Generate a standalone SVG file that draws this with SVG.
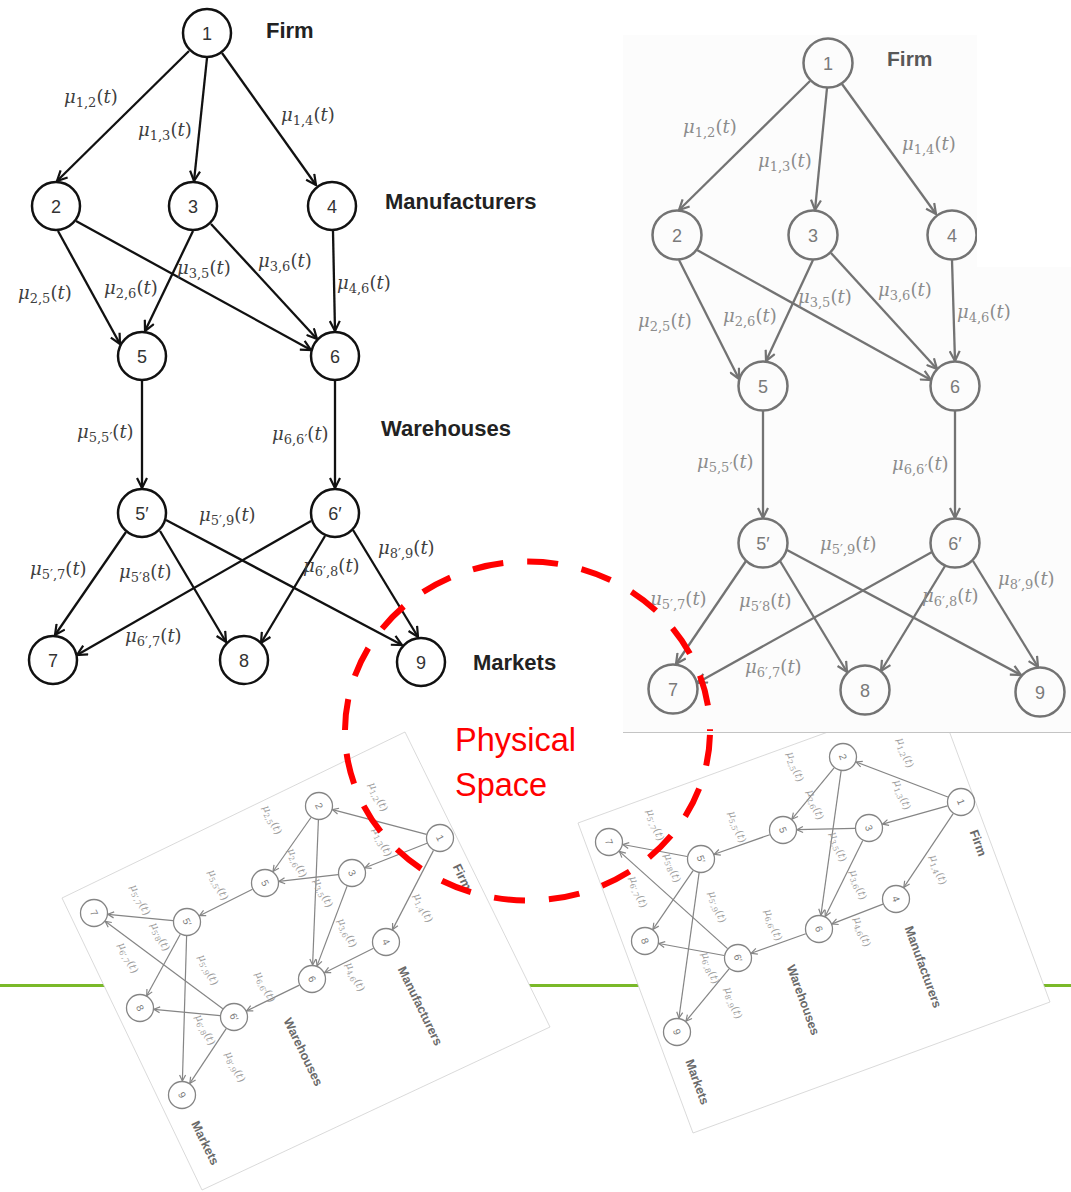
<svg xmlns="http://www.w3.org/2000/svg" width="1071" height="1192" viewBox="0 0 1071 1192">
<style>
.mu{font-family:"DejaVu Serif","Liberation Serif",serif}
.tlL{font-size:18px;fill:#404040}
.trL{font-size:18px;fill:#8c8c8c}
.smL{font-size:10.5px;fill:#9c9c9c;text-anchor:middle}
.i{font-style:italic}
.s{font-size:13px}
.ss{font-size:7.5px}
.cat{font-family:"Liberation Sans",Arial,sans-serif;font-weight:bold}
.tlc{font-size:22px;fill:#222}
.trc{font-size:21px;fill:#585858}
.smc{font-size:12.5px;fill:#6a6a6a;text-anchor:middle}
.num{font-family:"Liberation Sans",Arial,sans-serif;text-anchor:middle}
.tl circle{fill:none;stroke:#111;stroke-width:2.5}
.tl text{font-size:18px;fill:#333}
.tr circle{fill:none;stroke:#737373;stroke-width:2.5}
.tr text{font-size:18px;fill:#7a7a7a}
.sm circle{fill:none;stroke:#858585;stroke-width:1.3}
.sm text{font-size:10px;fill:#7a7a7a}
.eK line{stroke:#111;stroke-width:2.3;marker-end:url(#ak)}
.eG line{stroke:#737373;stroke-width:2.3;marker-end:url(#ag)}
.eS line{stroke:#858585;stroke-width:1.2;marker-end:url(#as)}
</style>
<defs>
<marker id="ak" viewBox="0 0 12 12" refX="11" refY="6" markerWidth="12" markerHeight="12" markerUnits="userSpaceOnUse" orient="auto"><path d="M1,1 L11,6 L1,11" fill="none" stroke="#111" stroke-width="2.2"/></marker>
<marker id="ag" viewBox="0 0 12 12" refX="11" refY="6" markerWidth="12" markerHeight="12" markerUnits="userSpaceOnUse" orient="auto"><path d="M1,1 L11,6 L1,11" fill="none" stroke="#737373" stroke-width="2.2"/></marker>
<marker id="as" viewBox="0 0 8 8" refX="7" refY="4" markerWidth="8" markerHeight="8" markerUnits="userSpaceOnUse" orient="auto"><path d="M1,1 L7,4 L1,7" fill="none" stroke="#858585" stroke-width="1.2"/></marker>
</defs>
<rect width="1071" height="1192" fill="#fff"/>
<line x1="0" y1="985.5" x2="1071" y2="985.5" stroke="#7ab929" stroke-width="3"/>

<!-- bottom-left rotated copy -->
<g id="bl">
<polygon points="62,898 405,732 550,1027 202,1190" fill="#fff" stroke="#d0d0d0" stroke-width="0.8"/>
<g id="bl-edges" class="eS">
<line x1="426.5" y1="834.4" x2="332.5" y2="809.6"/>
<line x1="427" y1="843.2" x2="365" y2="867.8"/>
<line x1="433.5" y1="850.4" x2="392.5" y2="929.6"/>
<line x1="311" y1="817.5" x2="273" y2="871.5"/>
<line x1="318.4" y1="820" x2="312.6" y2="965"/>
<line x1="338.1" y1="874.6" x2="278.9" y2="881.4"/>
<line x1="347.1" y1="886.1" x2="317" y2="965.9"/>
<line x1="373.5" y1="948.3" x2="324.5" y2="972.7"/>
<line x1="252.5" y1="889.3" x2="199.5" y2="915.7"/>
<line x1="299.4" y1="985.1" x2="246.6" y2="1010.9"/>
<line x1="173.1" y1="920.7" x2="107.9" y2="914.3"/>
<line x1="180.3" y1="934.3" x2="146.7" y2="995.7"/>
<line x1="186.6" y1="936" x2="182.4" y2="1081"/>
<line x1="222.8" y1="1008.7" x2="105.2" y2="921.3"/>
<line x1="220.1" y1="1015.7" x2="153.9" y2="1009.3"/>
<line x1="226.2" y1="1028.6" x2="189.8" y2="1083.4"/>
</g>
<g id="bl-n1" class="sm"><circle cx="440" cy="838" r="13.5"/><text class="num" transform="translate(440,838) rotate(64)" y="3.5">1</text></g>
<g id="bl-n2" class="sm"><circle cx="319" cy="806" r="13.5"/><text class="num" transform="translate(319,806) rotate(64)" y="3.5">2</text></g>
<g id="bl-n3" class="sm"><circle cx="352" cy="873" r="13.5"/><text class="num" transform="translate(352,873) rotate(64)" y="3.5">3</text></g>
<g id="bl-n4" class="sm"><circle cx="386" cy="942" r="13.5"/><text class="num" transform="translate(386,942) rotate(64)" y="3.5">4</text></g>
<g id="bl-n5" class="sm"><circle cx="265" cy="883" r="13.5"/><text class="num" transform="translate(265,883) rotate(64)" y="3.5">5</text></g>
<g id="bl-n6" class="sm"><circle cx="312" cy="979" r="13.5"/><text class="num" transform="translate(312,979) rotate(64)" y="3.5">6</text></g>
<g id="bl-n5p" class="sm"><circle cx="187" cy="922" r="13.5"/><text class="num" transform="translate(187,922) rotate(64)" y="3.5">5′</text></g>
<g id="bl-n6p" class="sm"><circle cx="234" cy="1017" r="13.5"/><text class="num" transform="translate(234,1017) rotate(64)" y="3.5">6′</text></g>
<g id="bl-n7" class="sm"><circle cx="94" cy="913" r="13.5"/><text class="num" transform="translate(94,913) rotate(64)" y="3.5">7</text></g>
<g id="bl-n8" class="sm"><circle cx="140" cy="1008" r="13.5"/><text class="num" transform="translate(140,1008) rotate(64)" y="3.5">8</text></g>
<g id="bl-n9" class="sm"><circle cx="182" cy="1095" r="13.5"/><text class="num" transform="translate(182,1095) rotate(64)" y="3.5">9</text></g>
<g id="bl-labels">
<text class="mu smL" transform="translate(378,797) rotate(64)" y="3"><tspan class="i">μ</tspan><tspan class="ss" dy="2.5">1,2</tspan><tspan dy="-2.5">(</tspan><tspan class="i">t</tspan>)</text>
<text class="mu smL" transform="translate(382,842) rotate(64)" y="3"><tspan class="i">μ</tspan><tspan class="ss" dy="2.5">1,3</tspan><tspan dy="-2.5">(</tspan><tspan class="i">t</tspan>)</text>
<text class="mu smL" transform="translate(423,908) rotate(64)" y="3"><tspan class="i">μ</tspan><tspan class="ss" dy="2.5">1,4</tspan><tspan dy="-2.5">(</tspan><tspan class="i">t</tspan>)</text>
<text class="mu smL" transform="translate(272,820) rotate(64)" y="3"><tspan class="i">μ</tspan><tspan class="ss" dy="2.5">2,5</tspan><tspan dy="-2.5">(</tspan><tspan class="i">t</tspan>)</text>
<text class="mu smL" transform="translate(297,863) rotate(64)" y="3"><tspan class="i">μ</tspan><tspan class="ss" dy="2.5">2,6</tspan><tspan dy="-2.5">(</tspan><tspan class="i">t</tspan>)</text>
<text class="mu smL" transform="translate(323,893) rotate(64)" y="3"><tspan class="i">μ</tspan><tspan class="ss" dy="2.5">3,5</tspan><tspan dy="-2.5">(</tspan><tspan class="i">t</tspan>)</text>
<text class="mu smL" transform="translate(347,933) rotate(64)" y="3"><tspan class="i">μ</tspan><tspan class="ss" dy="2.5">3,6</tspan><tspan dy="-2.5">(</tspan><tspan class="i">t</tspan>)</text>
<text class="mu smL" transform="translate(355,977) rotate(64)" y="3"><tspan class="i">μ</tspan><tspan class="ss" dy="2.5">4,6</tspan><tspan dy="-2.5">(</tspan><tspan class="i">t</tspan>)</text>
<text class="mu smL" transform="translate(218,885) rotate(64)" y="3"><tspan class="i">μ</tspan><tspan class="ss" dy="2.5">5,5′</tspan><tspan dy="-2.5">(</tspan><tspan class="i">t</tspan>)</text>
<text class="mu smL" transform="translate(265,987) rotate(64)" y="3"><tspan class="i">μ</tspan><tspan class="ss" dy="2.5">6,6′</tspan><tspan dy="-2.5">(</tspan><tspan class="i">t</tspan>)</text>
<text class="mu smL" transform="translate(140,900) rotate(64)" y="3"><tspan class="i">μ</tspan><tspan class="ss" dy="2.5">5′,7</tspan><tspan dy="-2.5">(</tspan><tspan class="i">t</tspan>)</text>
<text class="mu smL" transform="translate(160,937) rotate(64)" y="3"><tspan class="i">μ</tspan><tspan class="ss" dy="2.5">5′8</tspan><tspan dy="-2.5">(</tspan><tspan class="i">t</tspan>)</text>
<text class="mu smL" transform="translate(128,958) rotate(64)" y="3"><tspan class="i">μ</tspan><tspan class="ss" dy="2.5">6′,7</tspan><tspan dy="-2.5">(</tspan><tspan class="i">t</tspan>)</text>
<text class="mu smL" transform="translate(208,970) rotate(64)" y="3"><tspan class="i">μ</tspan><tspan class="ss" dy="2.5">5′,9</tspan><tspan dy="-2.5">(</tspan><tspan class="i">t</tspan>)</text>
<text class="mu smL" transform="translate(205,1030) rotate(64)" y="3"><tspan class="i">μ</tspan><tspan class="ss" dy="2.5">6′,8</tspan><tspan dy="-2.5">(</tspan><tspan class="i">t</tspan>)</text>
<text class="mu smL" transform="translate(235,1067) rotate(64)" y="3"><tspan class="i">μ</tspan><tspan class="ss" dy="2.5">8′,9</tspan><tspan dy="-2.5">(</tspan><tspan class="i">t</tspan>)</text>
<text class="cat smc" transform="translate(462,877) rotate(64)" y="4">Firm</text>
<text class="cat smc" transform="translate(420,1006) rotate(64)" y="4">Manufacturers</text>
<text class="cat smc" transform="translate(303,1052) rotate(64)" y="4">Warehouses</text>
<text class="cat smc" transform="translate(205,1143) rotate(64)" y="4">Markets</text>
</g>
</g>

<!-- bottom-right rotated copy -->
<g id="br">
<polygon points="578,823 935,693 1050,1002 693,1133" fill="#fff" stroke="#d0d0d0" stroke-width="0.8"/>
<g id="br-edges" class="eS">
<line x1="947.9" y1="797" x2="856.1" y2="762"/>
<line x1="947.5" y1="805.8" x2="882.5" y2="824.2"/>
<line x1="953.2" y1="813.6" x2="903.8" y2="887.4"/>
<line x1="834.1" y1="767.8" x2="791.9" y2="819.2"/>
<line x1="841.1" y1="770.9" x2="820.9" y2="915.1"/>
<line x1="855" y1="828.3" x2="797" y2="829.7"/>
<line x1="862.8" y1="840.5" x2="825.2" y2="916.5"/>
<line x1="883" y1="904.1" x2="832" y2="923.9"/>
<line x1="769.8" y1="834.7" x2="714.2" y2="854.3"/>
<line x1="805.8" y1="933.7" x2="751.2" y2="953.3"/>
<line x1="687.2" y1="856.5" x2="622.8" y2="844.5"/>
<line x1="693.1" y1="870.6" x2="652.9" y2="929.4"/>
<line x1="699.1" y1="872.9" x2="678.9" y2="1018.1"/>
<line x1="727.6" y1="948.6" x2="619.4" y2="851.4"/>
<line x1="724.2" y1="955.5" x2="658.8" y2="943.5"/>
<line x1="729.1" y1="968.8" x2="685.9" y2="1021.2"/>
</g>
<g id="br-n1" class="sm"><circle cx="961" cy="802" r="13.5"/><text class="num" transform="translate(961,802) rotate(70)" y="3.5">1</text></g>
<g id="br-n2" class="sm"><circle cx="843" cy="757" r="13.5"/><text class="num" transform="translate(843,757) rotate(70)" y="3.5">2</text></g>
<g id="br-n3" class="sm"><circle cx="869" cy="828" r="13.5"/><text class="num" transform="translate(869,828) rotate(70)" y="3.5">3</text></g>
<g id="br-n4" class="sm"><circle cx="896" cy="899" r="13.5"/><text class="num" transform="translate(896,899) rotate(70)" y="3.5">4</text></g>
<g id="br-n5" class="sm"><circle cx="783" cy="830" r="13.5"/><text class="num" transform="translate(783,830) rotate(70)" y="3.5">5</text></g>
<g id="br-n6" class="sm"><circle cx="819" cy="929" r="13.5"/><text class="num" transform="translate(819,929) rotate(70)" y="3.5">6</text></g>
<g id="br-n5p" class="sm"><circle cx="701" cy="859" r="13.5"/><text class="num" transform="translate(701,859) rotate(70)" y="3.5">5′</text></g>
<g id="br-n6p" class="sm"><circle cx="738" cy="958" r="13.5"/><text class="num" transform="translate(738,958) rotate(70)" y="3.5">6′</text></g>
<g id="br-n7" class="sm"><circle cx="609" cy="842" r="13.5"/><text class="num" transform="translate(609,842) rotate(70)" y="3.5">7</text></g>
<g id="br-n8" class="sm"><circle cx="645" cy="941" r="13.5"/><text class="num" transform="translate(645,941) rotate(70)" y="3.5">8</text></g>
<g id="br-n9" class="sm"><circle cx="677" cy="1032" r="13.5"/><text class="num" transform="translate(677,1032) rotate(70)" y="3.5">9</text></g>
<g id="br-labels">
<text class="mu smL" transform="translate(905,753) rotate(70)" y="3"><tspan class="i">μ</tspan><tspan class="ss" dy="2.5">1,2</tspan><tspan dy="-2.5">(</tspan><tspan class="i">t</tspan>)</text>
<text class="mu smL" transform="translate(902,795) rotate(70)" y="3"><tspan class="i">μ</tspan><tspan class="ss" dy="2.5">1,3</tspan><tspan dy="-2.5">(</tspan><tspan class="i">t</tspan>)</text>
<text class="mu smL" transform="translate(938,870) rotate(70)" y="3"><tspan class="i">μ</tspan><tspan class="ss" dy="2.5">1,4</tspan><tspan dy="-2.5">(</tspan><tspan class="i">t</tspan>)</text>
<text class="mu smL" transform="translate(795,767) rotate(70)" y="3"><tspan class="i">μ</tspan><tspan class="ss" dy="2.5">2,5</tspan><tspan dy="-2.5">(</tspan><tspan class="i">t</tspan>)</text>
<text class="mu smL" transform="translate(815,805) rotate(70)" y="3"><tspan class="i">μ</tspan><tspan class="ss" dy="2.5">2,6</tspan><tspan dy="-2.5">(</tspan><tspan class="i">t</tspan>)</text>
<text class="mu smL" transform="translate(838,847) rotate(70)" y="3"><tspan class="i">μ</tspan><tspan class="ss" dy="2.5">3,5</tspan><tspan dy="-2.5">(</tspan><tspan class="i">t</tspan>)</text>
<text class="mu smL" transform="translate(858,885) rotate(70)" y="3"><tspan class="i">μ</tspan><tspan class="ss" dy="2.5">3,6</tspan><tspan dy="-2.5">(</tspan><tspan class="i">t</tspan>)</text>
<text class="mu smL" transform="translate(862,932) rotate(70)" y="3"><tspan class="i">μ</tspan><tspan class="ss" dy="2.5">4,6</tspan><tspan dy="-2.5">(</tspan><tspan class="i">t</tspan>)</text>
<text class="mu smL" transform="translate(737,827) rotate(70)" y="3"><tspan class="i">μ</tspan><tspan class="ss" dy="2.5">5,5′</tspan><tspan dy="-2.5">(</tspan><tspan class="i">t</tspan>)</text>
<text class="mu smL" transform="translate(773,925) rotate(70)" y="3"><tspan class="i">μ</tspan><tspan class="ss" dy="2.5">6,6′</tspan><tspan dy="-2.5">(</tspan><tspan class="i">t</tspan>)</text>
<text class="mu smL" transform="translate(655,825) rotate(70)" y="3"><tspan class="i">μ</tspan><tspan class="ss" dy="2.5">5′,7</tspan><tspan dy="-2.5">(</tspan><tspan class="i">t</tspan>)</text>
<text class="mu smL" transform="translate(672,868) rotate(70)" y="3"><tspan class="i">μ</tspan><tspan class="ss" dy="2.5">5′8</tspan><tspan dy="-2.5">(</tspan><tspan class="i">t</tspan>)</text>
<text class="mu smL" transform="translate(638,892) rotate(70)" y="3"><tspan class="i">μ</tspan><tspan class="ss" dy="2.5">6′,7</tspan><tspan dy="-2.5">(</tspan><tspan class="i">t</tspan>)</text>
<text class="mu smL" transform="translate(717,907) rotate(70)" y="3"><tspan class="i">μ</tspan><tspan class="ss" dy="2.5">5′,9</tspan><tspan dy="-2.5">(</tspan><tspan class="i">t</tspan>)</text>
<text class="mu smL" transform="translate(710,968) rotate(70)" y="3"><tspan class="i">μ</tspan><tspan class="ss" dy="2.5">6′,8</tspan><tspan dy="-2.5">(</tspan><tspan class="i">t</tspan>)</text>
<text class="mu smL" transform="translate(733,1003) rotate(70)" y="3"><tspan class="i">μ</tspan><tspan class="ss" dy="2.5">8′,9</tspan><tspan dy="-2.5">(</tspan><tspan class="i">t</tspan>)</text>
<text class="cat smc" transform="translate(978,843) rotate(70)" y="4">Firm</text>
<text class="cat smc" transform="translate(923,967) rotate(70)" y="4">Manufacturers</text>
<text class="cat smc" transform="translate(803,1000) rotate(70)" y="4">Warehouses</text>
<text class="cat smc" transform="translate(697,1082) rotate(70)" y="4">Markets</text>
</g>
</g>

<!-- top-right gray copy -->
<g id="tr">
<rect x="623" y="35" width="448" height="697" fill="#fcfcfc"/>
<line x1="623" y1="732.5" x2="1071" y2="732.5" stroke="#c4c4c4" stroke-width="1.2"/>
<g id="tr-edges" class="eG">
<line x1="810" y1="81" x2="679" y2="210"/>
<line x1="827" y1="88" x2="815" y2="210"/>
<line x1="842" y1="84" x2="936" y2="214"/>
<line x1="679" y1="260" x2="739" y2="379"/>
<line x1="697" y1="250" x2="931" y2="380"/>
<line x1="813" y1="260" x2="766" y2="361"/>
<line x1="831" y1="253" x2="937" y2="369"/>
<line x1="952" y1="260" x2="955" y2="361"/>
<line x1="763" y1="411" x2="763" y2="518"/>
<line x1="955" y1="411" x2="955" y2="518"/>
<line x1="746" y1="561" x2="676" y2="664"/>
<line x1="780" y1="561" x2="847" y2="672"/>
<line x1="787" y1="550" x2="1021" y2="675"/>
<line x1="932" y1="552" x2="697" y2="683"/>
<line x1="945" y1="566" x2="881" y2="671"/>
<line x1="973" y1="561" x2="1038" y2="667"/>
</g>
<g id="tr-n1" class="tr"><circle cx="828" cy="63" r="24.5"/><text class="num" x="828" y="69.5">1</text></g>
<g id="tr-n2" class="tr"><circle cx="677" cy="235" r="24.5"/><text class="num" x="677" y="241.5">2</text></g>
<g id="tr-n3" class="tr"><circle cx="813" cy="235" r="24.5"/><text class="num" x="813" y="241.5">3</text></g>
<g id="tr-n4" class="tr"><circle cx="952" cy="235" r="24.5"/><text class="num" x="952" y="241.5">4</text></g>
<g id="tr-n5" class="tr"><circle cx="763" cy="386" r="24.5"/><text class="num" x="763" y="392.5">5</text></g>
<g id="tr-n6" class="tr"><circle cx="955" cy="386" r="24.5"/><text class="num" x="955" y="392.5">6</text></g>
<g id="tr-n5p" class="tr"><circle cx="763" cy="543" r="24.5"/><text class="num" x="763" y="549.5">5′</text></g>
<g id="tr-n6p" class="tr"><circle cx="955" cy="543" r="24.5"/><text class="num" x="955" y="549.5">6′</text></g>
<g id="tr-n7" class="tr"><circle cx="673" cy="689" r="24.5"/><text class="num" x="673" y="695.5">7</text></g>
<g id="tr-n8" class="tr"><circle cx="865" cy="690" r="24.5"/><text class="num" x="865" y="696.5">8</text></g>
<g id="tr-n9" class="tr"><circle cx="1040" cy="692" r="24.5"/><text class="num" x="1040" y="698.5">9</text></g>
<rect x="977" y="35" width="94" height="232" fill="#fff"/>
<g id="tr-labels">
<text class="mu trL" x="683" y="133"><tspan class="i">μ</tspan><tspan class="s" dy="4">1,2</tspan><tspan dy="-4">(</tspan><tspan class="i">t</tspan>)</text>
<text class="mu trL" x="758" y="167"><tspan class="i">μ</tspan><tspan class="s" dy="4">1,3</tspan><tspan dy="-4">(</tspan><tspan class="i">t</tspan>)</text>
<text class="mu trL" x="902" y="150"><tspan class="i">μ</tspan><tspan class="s" dy="4">1,4</tspan><tspan dy="-4">(</tspan><tspan class="i">t</tspan>)</text>
<text class="mu trL" x="638" y="327"><tspan class="i">μ</tspan><tspan class="s" dy="4">2,5</tspan><tspan dy="-4">(</tspan><tspan class="i">t</tspan>)</text>
<text class="mu trL" x="723" y="322"><tspan class="i">μ</tspan><tspan class="s" dy="4">2,6</tspan><tspan dy="-4">(</tspan><tspan class="i">t</tspan>)</text>
<text class="mu trL" x="798" y="303"><tspan class="i">μ</tspan><tspan class="s" dy="4">3,5</tspan><tspan dy="-4">(</tspan><tspan class="i">t</tspan>)</text>
<text class="mu trL" x="878" y="296"><tspan class="i">μ</tspan><tspan class="s" dy="4">3,6</tspan><tspan dy="-4">(</tspan><tspan class="i">t</tspan>)</text>
<text class="mu trL" x="957" y="318"><tspan class="i">μ</tspan><tspan class="s" dy="4">4,6</tspan><tspan dy="-4">(</tspan><tspan class="i">t</tspan>)</text>
<text class="mu trL" x="697" y="468"><tspan class="i">μ</tspan><tspan class="s" dy="4">5,5′</tspan><tspan dy="-4">(</tspan><tspan class="i">t</tspan>)</text>
<text class="mu trL" x="892" y="470"><tspan class="i">μ</tspan><tspan class="s" dy="4">6,6′</tspan><tspan dy="-4">(</tspan><tspan class="i">t</tspan>)</text>
<text class="mu trL" x="820" y="550"><tspan class="i">μ</tspan><tspan class="s" dy="4">5′,9</tspan><tspan dy="-4">(</tspan><tspan class="i">t</tspan>)</text>
<text class="mu trL" x="650" y="605"><tspan class="i">μ</tspan><tspan class="s" dy="4">5′,7</tspan><tspan dy="-4">(</tspan><tspan class="i">t</tspan>)</text>
<text class="mu trL" x="739" y="607"><tspan class="i">μ</tspan><tspan class="s" dy="4">5′8</tspan><tspan dy="-4">(</tspan><tspan class="i">t</tspan>)</text>
<text class="mu trL" x="922" y="602"><tspan class="i">μ</tspan><tspan class="s" dy="4">6′,8</tspan><tspan dy="-4">(</tspan><tspan class="i">t</tspan>)</text>
<text class="mu trL" x="998" y="585"><tspan class="i">μ</tspan><tspan class="s" dy="4">8′,9</tspan><tspan dy="-4">(</tspan><tspan class="i">t</tspan>)</text>
<text class="mu trL" x="745" y="673"><tspan class="i">μ</tspan><tspan class="s" dy="4">6′,7</tspan><tspan dy="-4">(</tspan><tspan class="i">t</tspan>)</text>
<text class="cat trc" x="887" y="66">Firm</text>
</g>
</g>

<!-- top-left black diagram -->
<g id="tl">
<g id="tl-edges" class="eK">
<line x1="189" y1="51" x2="57" y2="181"/>
<line x1="207" y1="58" x2="194" y2="181"/>
<line x1="222" y1="53" x2="316" y2="185"/>
<line x1="58" y1="231" x2="120" y2="344"/>
<line x1="76" y1="221" x2="311" y2="350"/>
<line x1="193" y1="231" x2="145" y2="331"/>
<line x1="211" y1="224" x2="317" y2="339"/>
<line x1="333" y1="231" x2="335" y2="331"/>
<line x1="142" y1="381" x2="142" y2="488"/>
<line x1="335" y1="381" x2="335" y2="488"/>
<line x1="126" y1="532" x2="55" y2="635"/>
<line x1="160" y1="531" x2="226" y2="642"/>
<line x1="166" y1="520" x2="402" y2="645"/>
<line x1="311" y1="521" x2="77" y2="655"/>
<line x1="325" y1="536" x2="261" y2="643"/>
<line x1="353" y1="530" x2="418" y2="637"/>
</g>
<g id="tl-n1" class="tl"><circle cx="207" cy="33" r="24"/><text class="num" x="207" y="39.5">1</text></g>
<g id="tl-n2" class="tl"><circle cx="56" cy="206" r="24"/><text class="num" x="56" y="212.5">2</text></g>
<g id="tl-n3" class="tl"><circle cx="193" cy="206" r="24"/><text class="num" x="193" y="212.5">3</text></g>
<g id="tl-n4" class="tl"><circle cx="332" cy="206" r="24"/><text class="num" x="332" y="212.5">4</text></g>
<g id="tl-n5" class="tl"><circle cx="142" cy="356" r="24"/><text class="num" x="142" y="362.5">5</text></g>
<g id="tl-n6" class="tl"><circle cx="335" cy="356" r="24"/><text class="num" x="335" y="362.5">6</text></g>
<g id="tl-n5p" class="tl"><circle cx="142" cy="513" r="24"/><text class="num" x="142" y="519.5">5′</text></g>
<g id="tl-n6p" class="tl"><circle cx="335" cy="513" r="24"/><text class="num" x="335" y="519.5">6′</text></g>
<g id="tl-n7" class="tl"><circle cx="53" cy="660" r="24"/><text class="num" x="53" y="666.5">7</text></g>
<g id="tl-n8" class="tl"><circle cx="244" cy="660" r="24"/><text class="num" x="244" y="666.5">8</text></g>
<g id="tl-n9" class="tl"><circle cx="421" cy="662" r="24"/><text class="num" x="421" y="668.5">9</text></g>
<g id="tl-labels">
<text class="mu tlL" x="64" y="103"><tspan class="i">μ</tspan><tspan class="s" dy="4">1,2</tspan><tspan dy="-4">(</tspan><tspan class="i">t</tspan>)</text>
<text class="mu tlL" x="138" y="136"><tspan class="i">μ</tspan><tspan class="s" dy="4">1,3</tspan><tspan dy="-4">(</tspan><tspan class="i">t</tspan>)</text>
<text class="mu tlL" x="281" y="121"><tspan class="i">μ</tspan><tspan class="s" dy="4">1,4</tspan><tspan dy="-4">(</tspan><tspan class="i">t</tspan>)</text>
<text class="mu tlL" x="18" y="299"><tspan class="i">μ</tspan><tspan class="s" dy="4">2,5</tspan><tspan dy="-4">(</tspan><tspan class="i">t</tspan>)</text>
<text class="mu tlL" x="104" y="294"><tspan class="i">μ</tspan><tspan class="s" dy="4">2,6</tspan><tspan dy="-4">(</tspan><tspan class="i">t</tspan>)</text>
<text class="mu tlL" x="177" y="274"><tspan class="i">μ</tspan><tspan class="s" dy="4">3,5</tspan><tspan dy="-4">(</tspan><tspan class="i">t</tspan>)</text>
<text class="mu tlL" x="258" y="267"><tspan class="i">μ</tspan><tspan class="s" dy="4">3,6</tspan><tspan dy="-4">(</tspan><tspan class="i">t</tspan>)</text>
<text class="mu tlL" x="337" y="289"><tspan class="i">μ</tspan><tspan class="s" dy="4">4,6</tspan><tspan dy="-4">(</tspan><tspan class="i">t</tspan>)</text>
<text class="mu tlL" x="77" y="438"><tspan class="i">μ</tspan><tspan class="s" dy="4">5,5′</tspan><tspan dy="-4">(</tspan><tspan class="i">t</tspan>)</text>
<text class="mu tlL" x="272" y="440"><tspan class="i">μ</tspan><tspan class="s" dy="4">6,6′</tspan><tspan dy="-4">(</tspan><tspan class="i">t</tspan>)</text>
<text class="mu tlL" x="199" y="521"><tspan class="i">μ</tspan><tspan class="s" dy="4">5′,9</tspan><tspan dy="-4">(</tspan><tspan class="i">t</tspan>)</text>
<text class="mu tlL" x="30" y="575"><tspan class="i">μ</tspan><tspan class="s" dy="4">5′,7</tspan><tspan dy="-4">(</tspan><tspan class="i">t</tspan>)</text>
<text class="mu tlL" x="119" y="578"><tspan class="i">μ</tspan><tspan class="s" dy="4">5′8</tspan><tspan dy="-4">(</tspan><tspan class="i">t</tspan>)</text>
<text class="mu tlL" x="303" y="572"><tspan class="i">μ</tspan><tspan class="s" dy="4">6′,8</tspan><tspan dy="-4">(</tspan><tspan class="i">t</tspan>)</text>
<text class="mu tlL" x="378" y="554"><tspan class="i">μ</tspan><tspan class="s" dy="4">8′,9</tspan><tspan dy="-4">(</tspan><tspan class="i">t</tspan>)</text>
<text class="mu tlL" x="125" y="642"><tspan class="i">μ</tspan><tspan class="s" dy="4">6′,7</tspan><tspan dy="-4">(</tspan><tspan class="i">t</tspan>)</text>
<text class="cat tlc" x="266" y="38">Firm</text>
<text class="cat tlc" x="385" y="209" font-size="22.8">Manufacturers</text>
<text class="cat tlc" x="381" y="436">Warehouses</text>
<text class="cat tlc" x="473" y="670" font-size="23">Markets</text>
</g>
</g>

<!-- physical space highlight -->
<g id="physical-space">
<ellipse cx="527.5" cy="731" rx="182.5" ry="169.5" fill="none" stroke="#ff0000" stroke-width="6" stroke-dasharray="31 24" stroke-dashoffset="-4"/>
<text x="455" y="751" font-family="Liberation Sans, Arial, sans-serif" font-size="32.5" fill="#ff0000">Physical</text>
<text x="455" y="796" font-family="Liberation Sans, Arial, sans-serif" font-size="32.5" fill="#ff0000">Space</text>
</g>
</svg>
